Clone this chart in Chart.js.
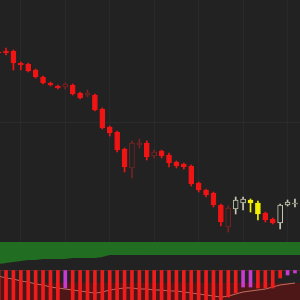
<!DOCTYPE html>
<html>
<head>
<meta charset="utf-8">
<script src="https://cdn.jsdelivr.net/npm/chart.js@4.4.0/dist/chart.umd.min.js"></script>
<style>
  html, body { margin: 0; padding: 0; background: #222; }
  #wrap { width: 300px; height: 300px; overflow: hidden; background: #222; }
  canvas { display: block; }
  #trendChart { background: linear-gradient(#216d21 0 13px, #222 13px); }
  #oscChart { background: linear-gradient(#222 0 15px, #4e1717 15px); }
</style>
</head>
<body>
<div id="wrap">
  <canvas id="priceChart" width="300" height="242"></canvas>
  <canvas id="trendChart" width="300" height="26"></canvas>
  <canvas id="oscChart" width="300" height="32"></canvas>
</div>
<script>
// Price candles
const opens  = [19.0, 19.1, 19.1, 17.9, 17.8, 17.2, 16.5, 15.9, 15.6, 15.5, 15.7, 14.9, 14.7, 14.7, 13.3, 11.5, 11.0, 9.3, 7.4, 9.7, 9.9, 8.6, 9.1, 8.7, 8.0, 7.8, 7.6, 5.9, 5.2, 4.9, 3.7, 1.5, 3.3, 3.9, 4.2, 3.9, 2.9, 2.3, 1.9, 3.7, 3.9];
const closes = [18.9, 18.9, 17.9, 17.7, 17.1, 16.5, 15.9, 15.7, 15.4, 15.8, 14.8, 14.4, 14.9, 13.2, 11.4, 10.9, 9.2, 7.5, 9.9, 9.9, 8.5, 9.0, 8.6, 7.9, 7.6, 7.5, 5.8, 5.2, 4.7, 3.7, 2.0, 3.4, 4.2, 4.3, 3.9, 2.8, 2.2, 1.9, 3.7, 4.0, 3.8];
const highs  = [19.3, 19.4, 19.2, 18.0, 17.9, 17.3, 16.6, 16.0, 15.7, 15.9, 15.8, 15.0, 15.2, 14.8, 13.4, 11.6, 11.1, 9.4, 10.1, 10.3, 10.1, 9.2, 9.2, 8.9, 8.1, 7.9, 7.7, 6.0, 5.3, 5.0, 3.8, 3.6, 4.5, 4.5, 4.3, 4.1, 3.0, 2.4, 3.8, 4.2, 4.3];
const lows   = [18.6, 18.7, 17.2, 17.2, 17.0, 16.4, 15.8, 15.6, 15.3, 15.3, 14.7, 14.3, 14.5, 13.1, 11.3, 10.6, 9.0, 7.0, 6.4, 9.4, 8.2, 8.4, 8.4, 7.5, 7.4, 7.3, 5.6, 5.0, 4.5, 3.5, 1.6, 1.0, 2.8, 3.2, 3.0, 2.2, 2.0, 1.8, 1.3, 3.6, 3.5];
// trend state of each bar: down, weak, up, pause
const candleState = ['down', 'down', 'down', 'down', 'down', 'down', 'down', 'down', 'down', 'weak', 'down', 'down', 'weak', 'down', 'down', 'down', 'down', 'down', 'weak', 'weak', 'down', 'weak', 'down', 'down', 'down', 'down', 'down', 'down', 'down', 'down', 'down', 'weak', 'up', 'up', 'pause', 'pause', 'down', 'down', 'up', 'up', 'up'];

// middle panel level
const trendLevel = [4, 5, 6, 7, 8, 8, 9, 9, 9, 9, 10, 10, 10, 10, 11, 13, 15, 17, 19, 19, 18, 17, 17, 17, 16, 16, 16, 16, 16, 17, 17, 18, 18, 17, 17, 16, 16, 15, 15, 14, 13];

// bottom oscillator
const histValues = [-30, -30, -30, -30, -30, -30, -30, -30, -30, -18, -30, -30, -30, -30, -30, -30, -30, -30, -30, -30, -30, -30, -30, -30, -30, -30, -30, -30, -30, -30, -30, -27, -23, -17, -17, -18, -18, -18, -8, -5, -3];
const histState = ['fall', 'fall', 'fall', 'fall', 'fall', 'fall', 'fall', 'fall', 'fall', 'rise', 'fall', 'fall', 'fall', 'fall', 'fall', 'fall', 'fall', 'fall', 'fall', 'fall', 'fall', 'fall', 'fall', 'fall', 'fall', 'fall', 'fall', 'fall', 'fall', 'fall', 'fall', 'fall', 'fall', 'rise', 'rise', 'fall', 'fall', 'fall', 'fall', 'rise', 'rise'];
const oscLine = [-6, -8, -9, -11, -12, -14, -15, -17, -18, -19, -20, -21, -22, -23, -22, -20, -19, -18, -18, -19, -19, -20, -20, -21, -21, -22, -23, -24, -25, -26, -27, -26, -24, -22, -21, -20, -19, -17, -15, -14, -13];

const gridX = [3, 9, 15, 21, 27, 33, 39];
const gridPrice = [12];

const bodyFill = { down: '#f01414', weak: '#222222', up: '#222222', pause: '#f2f200' };
const bodyLine = { down: '#f01414', weak: '#7a2222', up: '#c8c8b4', pause: '#f2f200' };

function xAxis(withGrid) {
    return {
        type: 'linear', min: 0.19, max: 40.68, offset: false,
        ticks: { display: false },
        grid: { display: withGrid, color: '#292929', drawTicks: false, offset: false },
        border: { display: false },
        afterBuildTicks: s => { s.ticks = gridX.map(v => ({ value: v })); },
        afterFit: s => { s.height = 0; }
    };
}

function yAxis(min, max, lines, color) {
    return {
        min: min, max: max,
        ticks: { display: false },
        grid: { color: color, drawTicks: false },
        border: { display: false },
        afterBuildTicks: s => { s.ticks = lines.map(v => ({ value: v })); },
        afterFit: s => { s.width = 0; }
    };
}

const common = {
    responsive: false,
    animation: false,
    devicePixelRatio: 1,
    layout: { padding: 0 },
    plugins: { legend: { display: false }, tooltip: { enabled: false } }
};

document.addEventListener('DOMContentLoaded', function() {
    const idx = opens.map((v, i) => i);

    // Candles: body and wick as floating bars
    new Chart(document.getElementById('priceChart'), {
        type: 'bar',
        data: {
            datasets: [{
                data: idx.map(i => ({ x: i, y: [opens[i], closes[i]] })),
                backgroundColor: candleState.map(s => bodyFill[s]),
                borderColor: candleState.map(s => bodyLine[s]),
                borderWidth: 1,
                borderSkipped: false,
                barThickness: 5,
                grouped: false,
                order: 0
            }, {
                data: idx.map(i => ({ x: i, y: [lows[i], highs[i]] })),
                backgroundColor: candleState.map(s => bodyLine[s]),
                borderWidth: 0,
                barThickness: 1,
                grouped: false,
                order: 1
            }]
        },
        options: Object.assign({}, common, {
            scales: { x: xAxis(true), y: yAxis(0, 24.2, gridPrice, '#2b2b2b') }
        })
    });

    // Green trend band
    new Chart(document.getElementById('trendChart'), {
        type: 'line',
        data: {
            datasets: [{
                data: idx.map(i => ({ x: i, y: trendLevel[i] })),
                borderWidth: 0,
                backgroundColor: '#216d21',
                fill: 'end',
                pointRadius: 0,
                tension: 0.3
            }]
        },
        options: Object.assign({}, common, {
            scales: { x: xAxis(false), y: yAxis(0, 26, [], '#222') }
        })
    });

    // Oscillator histogram + line
    new Chart(document.getElementById('oscChart'), {
        data: {
            datasets: [{
                type: 'bar',
                data: idx.map(i => ({ x: i, y: histValues[i] })),
                backgroundColor: histState.map(s => s === 'rise' ? '#c93ad0' : '#f01c1c'),
                barThickness: 3,
                grouped: false,
                order: 0
            }, {
                type: 'line',
                data: idx.map(i => ({ x: i, y: oscLine[i] })),
                borderColor: 'rgba(235, 140, 120, 0.75)',
                borderWidth: 1,
                backgroundColor: '#4e1717',
                fill: 'start',
                pointRadius: 0,
                tension: 0.3,
                order: 1
            }]
        },
        options: Object.assign({}, common, {
            scales: { x: xAxis(false), y: yAxis(-30, 2, [0], '#4a2a2a') }
        })
    });
});
</script>
</body>
</html>
